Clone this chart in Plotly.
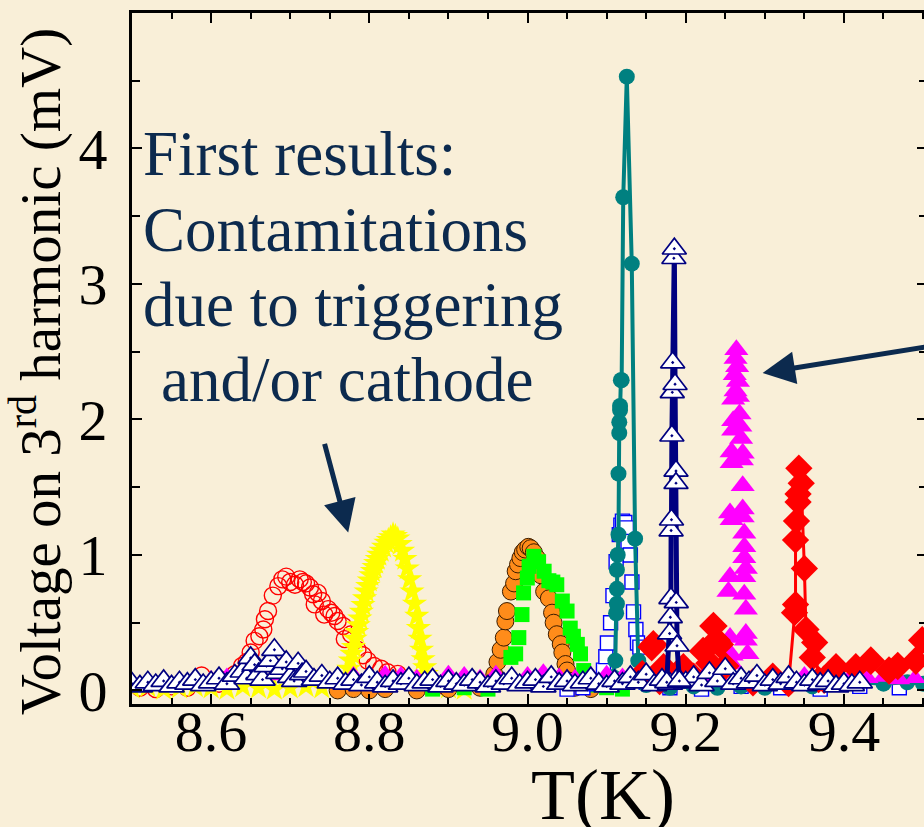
import plotly.graph_objects as go

# ---------------- data: T (K) and 3rd-harmonic voltage (mV) ----------------
# red open circles
red_circ_T = [8.51, 8.53, 8.55, 8.57, 8.588, 8.61, 8.62, 8.63, 8.639, 8.645, 8.650, 8.655, 8.661,
              8.666, 8.668, 8.672, 8.678, 8.685, 8.690, 8.695, 8.700, 8.706, 8.712, 8.716, 8.720,
              8.725, 8.729, 8.731, 8.735, 8.740, 8.743, 8.748, 8.752, 8.756, 8.760, 8.767, 8.769,
              8.777, 8.785, 8.792, 8.798, 8.806, 8.815, 8.823, 8.836, 8.85, 8.87, 8.89]
red_circ_V = [0.02, 0.01, 0.03, 0.02, 0.11, 0.05, 0.08, 0.12, 0.18, 0.21, 0.28, 0.366, 0.40,
              0.45, 0.525, 0.586, 0.70, 0.77, 0.82, 0.84, 0.80, 0.78, 0.82, 0.80, 0.79,
              0.76, 0.71, 0.635, 0.72, 0.66, 0.56, 0.60, 0.574, 0.55, 0.513, 0.476, 0.379,
              0.415, 0.30, 0.26, 0.22, 0.18, 0.16, 0.134, 0.122, 0.08, 0.05, 0.04]

# yellow stars
yel_T = [8.50, 8.52, 8.54, 8.56, 8.58, 8.60, 8.62, 8.64, 8.66, 8.68, 8.70, 8.72, 8.74, 8.76,
         8.768, 8.772, 8.774, 8.776, 8.778, 8.780, 8.782, 8.784, 8.786, 8.788, 8.790, 8.792,
         8.794, 8.796, 8.798, 8.800, 8.802, 8.804, 8.806, 8.808, 8.810, 8.812, 8.815, 8.818,
         8.821, 8.824, 8.827, 8.830, 8.833, 8.836, 8.839, 8.842, 8.845, 8.848, 8.851, 8.854,
         8.857, 8.860, 8.862, 8.864, 8.866, 8.868, 8.870, 8.872, 8.874, 8.877, 8.88, 8.90, 8.92]
yel_V = [0.02, 0.03, 0.01, 0.02, 0.03, 0.02, 0.01, 0.03, 0.02, 0.01, 0.02, 0.03, 0.02, 0.04,
         0.04, 0.10, 0.16, 0.22, 0.27, 0.32, 0.38, 0.43, 0.48, 0.53, 0.58, 0.63,
         0.68, 0.73, 0.77, 0.81, 0.85, 0.88, 0.91, 0.94, 0.97, 1.00, 1.03, 1.06,
         1.09, 1.11, 1.13, 1.15, 1.14, 1.12, 1.08, 1.03, 0.97, 0.90, 0.82, 0.73,
         0.64, 0.55, 0.46, 0.38, 0.30, 0.23, 0.17, 0.12, 0.08, 0.05, 0.04, 0.02, 0.01]

# orange filled circles
ora_T = [8.76, 8.78, 8.80, 8.82, 8.86, 8.90, 8.94, 8.958, 8.962, 8.966, 8.970, 8.972, 8.974,
         8.979, 8.983, 8.985, 8.988, 8.991, 8.994, 8.997, 9.001, 9.004, 9.008, 9.012, 9.017,
         9.021, 9.027, 9.031, 9.033, 9.037, 9.042, 9.044, 9.048, 9.050, 9.052, 9.06, 9.08]
ora_V = [0.00, 0.01, 0.00, 0.01, 0.00, 0.01, 0.02, 0.12, 0.21, 0.30, 0.39, 0.51, 0.586,
         0.73, 0.79, 0.88, 0.93, 0.977, 1.02, 1.04, 1.06, 1.05, 1.02, 0.977, 0.85,
         0.73, 0.68, 0.574, 0.50, 0.415, 0.342, 0.28, 0.195, 0.147, 0.073, 0.02, 0.01]

# green filled squares
grn_T = [8.88, 8.92, 8.95, 8.97, 8.979, 8.985, 8.989, 8.993, 8.995, 8.9997, 9.002, 9.008, 9.014,
         9.021, 9.027, 9.032, 9.037, 9.044, 9.050, 9.054, 9.058, 9.063, 9.067, 9.071, 9.08,
         9.10, 9.12]
grn_V = [0.01, 0.02, 0.01, 0.06, 0.244, 0.27, 0.39, 0.56, 0.72, 0.83, 0.916, 0.99, 0.95,
         0.88, 0.81, 0.80, 0.78, 0.66, 0.586, 0.46, 0.40, 0.34, 0.27, 0.147, 0.04,
         0.02, 0.01]

# blue open squares
blu_T = [9.05, 9.07, 9.085, 9.096, 9.099, 9.101, 9.105, 9.108, 9.112, 9.116, 9.118, 9.120,
         9.123, 9.125, 9.127, 9.130, 9.132, 9.134, 9.137, 9.139, 9.142, 9.15, 9.18, 9.22,
         9.27, 9.32, 9.37, 9.42, 9.47]
blu_V = [0.01, 0.02, 0.05, 0.15, 0.25, 0.35, 0.50, 0.70, 0.95, 1.15, 1.22, 1.25,
         1.24, 1.20, 1.10, 1.00, 0.80, 0.58, 0.45, 0.35, 0.32, 0.06, 0.02, 0.01,
         0.03, 0.02, 0.01, 0.03, 0.02]

# teal filled circles joined by a line
teal_T = [9.108, 9.111, 9.112, 9.113, 9.113, 9.113, 9.114, 9.115, 9.115, 9.116, 9.116, 9.117,
          9.117, 9.118, 9.119, 9.121, 9.1255, 9.1318, 9.136, 9.140, 9.15, 9.18, 9.21, 9.24,
          9.27, 9.30, 9.33, 9.36, 9.39, 9.42, 9.45, 9.48, 9.50]
teal_V = [0.10, 0.22, 0.57, 0.64, 0.75, 0.89, 1.00, 1.15, 1.60, 1.90, 1.98, 2.07,
          2.10, 2.29, 2.29, 3.64, 4.53, 3.15, 1.12, 0.22, 0.04, 0.02, 0.03, 0.02,
          0.03, 0.02, 0.04, 0.03, 0.05, 0.06, 0.05, 0.06, 0.05]

# navy open triangles joined by a line (transition peak)
navy_T = [9.176, 9.1796, 9.1805, 9.1813, 9.1815, 9.1820, 9.1825, 9.1830, 9.1835, 9.1850, 9.1856,
          9.1865, 9.1877, 9.1877, 9.1880, 9.1890, 9.192]
navy_V = [0.06, 0.42, 0.54, 0.68, 1.18, 1.26, 1.88, 2.20, 2.42, 3.19, 3.26,
          2.26, 1.62, 1.53, 0.65, 0.33, 0.07]

# navy open triangles along the baseline
navy_base_T = [8.50, 8.51, 8.52, 8.53, 8.54, 8.55, 8.56, 8.57, 8.58, 8.59, 8.60, 8.61, 8.62,
               8.63, 8.64, 8.645, 8.65, 8.655, 8.66, 8.665, 8.67, 8.675, 8.68, 8.685, 8.69,
               8.695, 8.70, 8.705, 8.71, 8.715, 8.72, 8.73, 8.74, 8.75, 8.76, 8.77, 8.78, 8.79,
               8.80, 8.81, 8.82, 8.83, 8.84, 8.85, 8.86, 8.87, 8.88, 8.89, 8.90, 8.91, 8.92,
               8.93, 8.94, 8.95, 8.96, 8.97, 8.98, 8.99, 9.00, 9.01, 9.02, 9.03, 9.04, 9.05,
               9.06, 9.07, 9.08, 9.09, 9.10, 9.11, 9.12, 9.13, 9.14, 9.15, 9.16, 9.17, 9.18,
               9.19, 9.20, 9.21, 9.22, 9.23, 9.24, 9.25, 9.26, 9.27, 9.28, 9.29, 9.30, 9.31,
               9.32, 9.33, 9.34, 9.35, 9.36, 9.37, 9.38, 9.39, 9.40, 9.41, 9.42]
navy_base_V = [0.05, 0.03, 0.06, 0.04, 0.07, 0.03, 0.06, 0.05, 0.08, 0.04, 0.06, 0.09, 0.05,
               0.11, 0.14, 0.09, 0.24, 0.19, 0.12, 0.08, 0.18, 0.22, 0.30, 0.13, 0.16,
               0.21, 0.10, 0.07, 0.20, 0.12, 0.14, 0.08, 0.11, 0.06, 0.09, 0.05, 0.08, 0.04,
               0.10, 0.06, 0.03, 0.07, 0.05, 0.09, 0.04, 0.06, 0.08, 0.03, 0.07, 0.05, 0.04,
               0.08, 0.06, 0.03, 0.07, 0.05, 0.09, 0.04, 0.06, 0.08, 0.03, 0.10, 0.05, 0.07,
               0.04, 0.06, 0.09, 0.05, 0.03, 0.07, 0.05, 0.10, 0.06, 0.12, 0.04, 0.08, 0.05,
               0.09, 0.06, 0.10, 0.04, 0.13, 0.07, 0.16, 0.05, 0.09, 0.06, 0.11, 0.04, 0.08,
               0.05, 0.10, 0.06, 0.04, 0.08, 0.05, 0.07, 0.03, 0.05, 0.04, 0.06]

# magenta filled triangles (peak)
mag_T = [9.264, 9.263, 9.265, 9.262, 9.266, 9.263, 9.266, 9.260, 9.268, 9.260, 9.269, 9.260,
         9.270, 9.258, 9.272, 9.258, 9.271, 9.272, 9.256, 9.258, 9.272, 9.272, 9.274, 9.274,
         9.274, 9.276, 9.274, 9.256, 9.254, 9.274, 9.276, 9.276, 9.276, 9.256, 9.258, 9.278, 9.258]
mag_V = [2.515, 2.45, 2.39, 2.33, 2.28, 2.21, 2.17, 2.15, 2.04, 1.99, 1.95, 1.92,
         1.86, 1.76, 1.75, 1.68, 1.70, 1.51, 1.31, 1.26, 1.34, 1.28, 1.16, 1.06,
         0.98, 0.90, 0.84, 0.84, 0.73, 0.71, 0.60, 0.42, 0.37, 0.39, 0.26, 0.27, 0.195]

# magenta filled triangles along the baseline
mag_base_T = [8.60, 8.62, 8.64, 8.66, 8.68, 8.70, 8.72, 8.74, 8.76, 8.78, 8.80, 8.82, 8.84, 8.86,
              8.88, 8.90, 8.92, 8.94, 8.96, 8.98, 9.00, 9.02, 9.04, 9.06, 9.08, 9.10, 9.12, 9.14,
              9.16, 9.18, 9.20, 9.22, 9.24, 9.29, 9.31, 9.33, 9.35, 9.37, 9.39, 9.41, 9.43, 9.45,
              9.47, 9.49]
mag_base_V = [0.08, 0.10, 0.12, 0.09, 0.11, 0.13, 0.10, 0.12, 0.09, 0.11, 0.10, 0.12, 0.11, 0.09,
              0.10, 0.12, 0.11, 0.09, 0.12, 0.10, 0.11, 0.13, 0.10, 0.09, 0.11, 0.12, 0.10, 0.09,
              0.11, 0.10, 0.12, 0.09, 0.11, 0.10, 0.12, 0.09, 0.11, 0.10, 0.08, 0.11, 0.09, 0.10,
              0.08, 0.09]

# red filled diamonds joined by a line (peak)
rdia_T = [9.330, 9.3375, 9.3388, 9.3388, 9.3400, 9.342, 9.342, 9.343, 9.346, 9.350, 9.352,
          9.360, 9.363, 9.368]
rdia_V = [0.05, 0.574, 0.635, 1.11, 1.25, 1.39, 1.45, 1.64, 1.53, 0.90, 0.45,
          0.244, 0.354, 0.08]

# red filled diamonds, scattered points
rdia_s_T = [9.145, 9.157, 9.159, 9.167, 9.172, 9.197, 9.210, 9.222, 9.230, 9.235, 9.239, 9.243,
            9.250, 9.285, 9.31, 9.375, 9.390, 9.415, 9.434, 9.457, 9.468, 9.491, 9.499]
rdia_s_V = [0.12, 0.32, 0.34, 0.07, 0.17, 0.17, 0.10, 0.29, 0.20, 0.476, 0.37, 0.34,
            0.18, 0.06, 0.10, 0.08, 0.17, 0.17, 0.22, 0.147, 0.18, 0.22, 0.37]

# ---------------- figure ----------------
SERIF = "Liberation Serif, Times New Roman, serif"
NAVY_TXT = "#0c2a4e"
BG = "#f9efd8"

fig = go.Figure()


def add(xs, ys, mode, symbol, size, color, line_color, line_w=1, path_w=None, path_c=None):
    fig.add_trace(go.Scatter(
        x=xs, y=ys, mode=mode,
        marker=dict(symbol=symbol, size=size, color=color,
                    line=dict(color=line_color, width=line_w)),
        line=dict(color=path_c or line_color, width=path_w or 1),
        showlegend=False, hoverinfo="skip"))


add(red_circ_T, red_circ_V, "markers", "circle", 17, "rgba(0,0,0,0)", "#ff0000", 1.4)
add(yel_T, yel_V, "markers", "star", 19, "#ffff00", "#ffff00", 0)
add(ora_T, ora_V, "markers", "circle", 17, "#ff8c1a", "#3a1c00", 1)
add(grn_T, grn_V, "markers", "square", 15, "#00ff00", "#00ff00", 0)
add(blu_T, blu_V, "markers", "square", 14, "#ffffff", "#0000ff", 1.4)
add(teal_T, teal_V, "lines+markers", "circle", 16, "#008080", "#008080", 0, 4, "#008080")
add(mag_base_T, mag_base_V, "markers", "triangle-up", 19, "#ff00ff", "#ff00ff", 0)
add(mag_T, mag_V, "markers", "triangle-up", 21, "#ff00ff", "#ff00ff", 0)
add(rdia_s_T, rdia_s_V, "markers", "diamond", 22, "#ff0000", "#ff0000", 0)
add(rdia_T, rdia_V, "lines+markers", "diamond", 21, "#ff0000", "#ff0000", 0, 3, "#ff0000")
add(navy_base_T, navy_base_V, "markers", "triangle-up-dot", 22, "#ffffff", "#000080", 1.7)
add(navy_T, navy_V, "lines+markers", "triangle-up-dot", 21, "#ffffff", "#000080", 1.7, 5, "#000080")

axis_common = dict(
    showline=True, linecolor="black", linewidth=3, mirror="ticks",
    ticks="inside", ticklen=10, tickwidth=2, tickcolor="black",
    showgrid=False, zeroline=False,
    tickfont=dict(family=SERIF, size=58, color="black"),
)

fig.update_xaxes(
    range=[8.5, 9.505], tickvals=[8.6, 8.8, 9.0, 9.2, 9.4],
    ticktext=["8.6", "8.8", "9.0", "9.2", "9.4"],
    minor=dict(dtick=0.05, ticks="inside", ticklen=6, tickwidth=2, tickcolor="black"),
    ticklabelstandoff=-26,
    **axis_common)
fig.update_yaxes(
    range=[-0.1, 5.0], tickvals=[0, 1, 2, 3, 4],
    minor=dict(dtick=0.5, ticks="inside", ticklen=8, tickwidth=2, tickcolor="black"),
    ticklabelstandoff=10,
    **axis_common)

W, H = 940, 827
ML, MR, MT, MB = 132, 10, 11, 123
PW, PH = W - ML - MR, H - MT - MB


def px(x, y):
    """pixel position on the page -> paper coordinates"""
    return (x - ML) / PW, (H - MB - y) / PH


annos = []
# annotation text block
for txt, x0, yc in [("First results:", 141, 152), ("Contamitations", 141, 229),
                    ("due to triggering", 141, 304), ("and/or cathode", 159, 379)]:
    ax_, ay_ = px(x0, yc)
    annos.append(dict(x=ax_, y=ay_, xref="paper", yref="paper", text=txt, showarrow=False,
                      xanchor="left", yanchor="middle",
                      font=dict(family=SERIF, size=63, color=NAVY_TXT)))

# axis titles
tx, ty = px(605, 795)
annos.append(dict(x=tx, y=ty, xref="paper", yref="paper", text="T(K)", showarrow=False,
                  xanchor="center", yanchor="middle",
                  font=dict(family=SERIF, size=72, color="black")))
yx, yy = px(37, 370)
annos.append(dict(x=yx, y=yy, xref="paper", yref="paper", textangle=-90,
                  text="Voltage on 3<sup>rd</sup> harmonic (mV)", showarrow=False,
                  xanchor="center", yanchor="middle",
                  font=dict(family=SERIF, size=57, color="black")))

# arrows
annos.append(dict(x=8.7733, y=1.166, xref="x", yref="y", text="", showarrow=True,
                  ax=-24, ay=-90, arrowhead=2, arrowsize=1.3, arrowwidth=5,
                  arrowcolor=NAVY_TXT))
annos.append(dict(x=9.2972, y=2.343, xref="x", yref="y", text="", showarrow=True,
                  ax=175, ay=-28, arrowhead=2, arrowsize=1.3, arrowwidth=5,
                  arrowcolor=NAVY_TXT))

fig.update_layout(
    width=W, height=H, margin=dict(l=ML, r=MR, t=MT, b=MB),
    paper_bgcolor=BG, plot_bgcolor=BG,
    annotations=annos, showlegend=False,
)

fig.write_html("out.html", post_script="document.body.style.margin='0';"
                                       "document.body.style.overflow='hidden';")
